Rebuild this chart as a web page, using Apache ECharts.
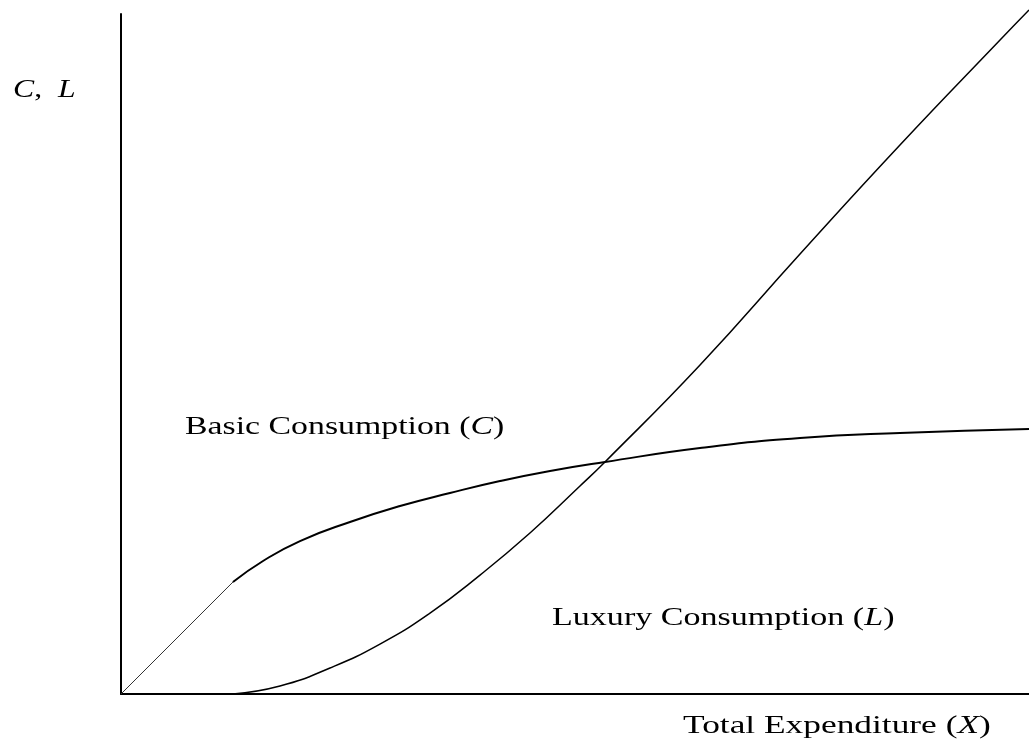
<!DOCTYPE html>
<html>
<head>
<meta charset="utf-8">
<script src="https://cdn.jsdelivr.net/npm/echarts@6/dist/echarts.min.js"></script>
<style>
  html, body { margin: 0; padding: 0; background: #fff; }
  #chart { width: 1029px; height: 755px; }
</style>
</head>
<body>
<div id="chart"></div>
<script>
// Basic consumption C(X): linear part, then concave part
const basicLinear = [[0, 0], [12.33, 12.35]]
const basicCurve = [
  [12.33, 12.35], [15.64, 14.67], [19.71, 16.87], [25.22, 18.97], [30.73, 20.73],
  [36.23, 22.17], [41.74, 23.49], [47.25, 24.6], [53.3, 25.59], [63.77, 27.13],
  [74.78, 28.23], [85.79, 28.79], [100, 29.23]
]
// Luxury consumption L(X)
const luxury = [
  [12.33, 0], [17.51, 0.88], [23.02, 2.87], [28.52, 5.51], [34.03, 8.93], [39.54, 13.12],
  [45.04, 17.76], [50.55, 22.94], [53.3, 25.59], [63.77, 36.29], [74.78, 48.53],
  [85.79, 60.55], [96.81, 72.13], [100, 75.44]
]

const serif = '"Liberation Serif", "DejaVu Serif", serif'

// parts: [text, italic?]
function label (x, y, parts, sx) {
  return {
    type: 'text',
    x: x,
    y: y,
    scaleX: sx,
    style: {
      text: parts.map(p => '{' + (p[1] ? 'i' : 'n') + '|' + p[0] + '}').join(''),
      fill: '#000',
      align: 'left',
      verticalAlign: 'middle',
      rich: {
        n: { fontFamily: serif, fontSize: 26, fill: '#000' },
        i: { fontFamily: serif, fontSize: 26, fontStyle: 'italic', fill: '#000' }
      }
    }
  }
}

const myChart = echarts.init(document.getElementById('chart'))
const option = {
  animation: false,
  backgroundColor: '#fff',
  grid: { left: 121, right: 0, top: 14, bottom: 61 },
  xAxis: {
    type: 'value',
    min: 0,
    max: 100,
    axisLine: { lineStyle: { color: '#000', width: 2 } },
    axisTick: { show: false },
    axisLabel: { show: false },
    splitLine: { show: false }
  },
  yAxis: {
    type: 'value',
    min: 0,
    max: 75,
    axisLine: { show: true, lineStyle: { color: '#000', width: 2 } },
    axisTick: { show: false },
    axisLabel: { show: false },
    splitLine: { show: false }
  },
  series: [
    {
      type: 'line',
      data: basicLinear,
      symbol: 'none',
      lineStyle: { color: '#333', width: 1 }
    },
    {
      type: 'line',
      data: basicCurve,
      symbol: 'none',
      smooth: 0.5,
      lineStyle: { color: '#000', width: 2 }
    },
    {
      type: 'line',
      data: luxury,
      symbol: 'none',
      smooth: 0.5,
      clip: false,
      lineStyle: { color: '#000', width: 1.5 }
    }
  ],
  graphic: [
    label(13, 90, [['C', true], [',  ', false], ['L', true]], 1.22),
    label(185, 427, [['Basic Consumption (', false], ['C', true], [')', false]], 1.3),
    label(552, 618, [['Luxury Consumption (', false], ['L', true], [')', false]], 1.31),
    label(683, 726, [['Total Expenditure (', false], ['X', true], [')', false]], 1.36)
  ]
}
myChart.setOption(option, true)
</script>
</body>
</html>
